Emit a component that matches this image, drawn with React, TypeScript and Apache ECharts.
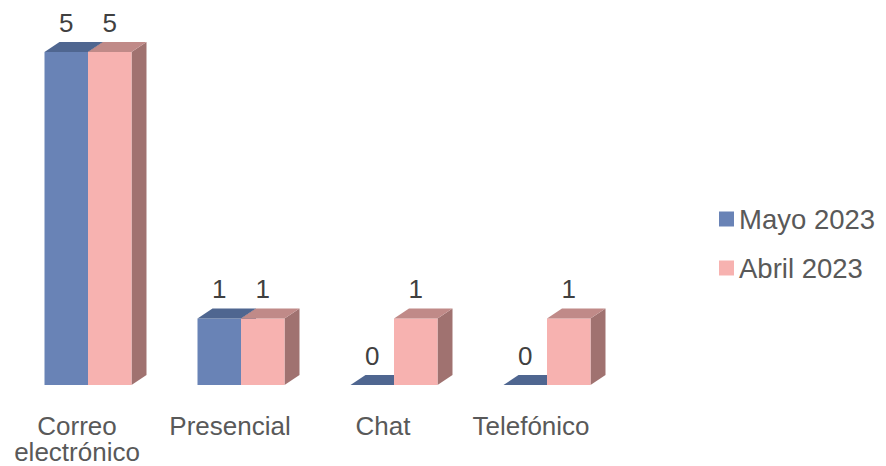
import React, { useEffect, useRef } from "react";
import * as echarts from "echarts";

const categories = ["Correo\nelectrónico", "Presencial", "Chat", "Telefónico"];
const seriesNames = ["Mayo 2023", "Abril 2023"];
const mayo = [5, 1, 0, 0];
const abril = [5, 1, 1, 1];

const palettes = [
  { front: "#6983B6", top: "#4F6690", side: "#3F5378" },
  { front: "#F7B2B0", top: "#C08A88", side: "#A07270" },
];

const FONT = "'Liberation Sans', Arial, sans-serif";

export default function App() {
  const ref = useRef<HTMLDivElement>(null);
  useEffect(() => {
    if (!ref.current) return;
    const chart = echarts.init(ref.current, undefined, { renderer: "svg" });
    const dx = 15;
    const dy = -10;
    const makeRender = (idx: number) => (params: any, api: any) => {
      const cat = api.value(0);
      const val = api.value(1);
      const base = api.coord([cat, 0]);
      const top = api.coord([cat, val]);
      const band = api.size([1, 0])[0];
      const w = band * 0.2843;
      const x0 = idx === 0 ? base[0] - w : base[0];
      const x1 = x0 + w;
      const yb = base[1];
      const yt = top[1];
      const p = palettes[idx];
      const children: any[] = [];
      if (yb - yt > 0) {
        children.push({
          type: "polygon",
          shape: { points: [[x1, yb], [x1 + dx, yb + dy], [x1 + dx, yt + dy], [x1, yt]] },
          style: { fill: p.side },
        });
        children.push({
          type: "rect",
          shape: { x: x0, y: yt, width: w, height: yb - yt },
          style: { fill: p.front },
        });
      }
      children.push({
        type: "polygon",
        shape: { points: [[x0, yt], [x1, yt], [x1 + dx, yt + dy], [x0 + dx, yt + dy]] },
        style: { fill: p.top },
      });
      children.push({
        type: "text",
        style: {
          text: String(val),
          x: (x0 + x1) / 2,
          y: yt - 29,
          align: "center",
          verticalAlign: "middle",
          fontSize: 26,
          fontFamily: FONT,
          fill: "#404040",
        },
      });
      return { type: "group", children };
    };
    const dataFor = (arr: number[]) => arr.map((v, i) => [i, v]);
    chart.setOption({
      animation: false,
      backgroundColor: "#ffffff",
      grid: { left: 11.5, top: 52, width: 612, bottom: 81 },
      xAxis: {
        type: "category",
        data: categories,
        axisLine: { show: false },
        axisTick: { show: false },
        axisLabel: {
          fontSize: 26,
          fontFamily: FONT,
          color: "#595959",
          lineHeight: 26,
          margin: 28,
          interval: 0,
          padding: [0, 22, 0, 0],
          formatter: (v: string, i: number) => (i === 3 ? `{t|${v}}` : v),
          rich: {
            t: {
              fontSize: 26,
              fontFamily: FONT,
              color: "#595959",
              lineHeight: 26,
              padding: [0, 10, 0, 0],
            },
          },
        },
      },
      yAxis: { type: "value", min: 0, max: 5, show: false, splitLine: { show: false } },
      legend: {
        orient: "vertical",
        left: 714,
        top: 199,
        icon: "rect",
        itemWidth: 15,
        itemHeight: 15,
        itemGap: 19,
        textStyle: {
          fontSize: 27.5,
          fontFamily: FONT,
          color: "#595959",
          lineHeight: 30,
        },
        data: seriesNames,
      },
      series: [
        {
          type: "custom",
          name: seriesNames[0],
          renderItem: makeRender(0),
          itemStyle: { color: palettes[0].front },
          encode: { x: 0, y: 1 },
          data: dataFor(mayo),
          z: 2,
        },
        {
          type: "custom",
          name: seriesNames[1],
          renderItem: makeRender(1),
          itemStyle: { color: palettes[1].front },
          encode: { x: 0, y: 1 },
          data: dataFor(abril),
          z: 3,
        },
      ],
    });
    return () => chart.dispose();
  }, []);
  return (
    <div
      ref={ref}
      style={{ position: "fixed", left: 0, top: 0, width: 886, height: 466, background: "#fff" }}
    />
  );
}
